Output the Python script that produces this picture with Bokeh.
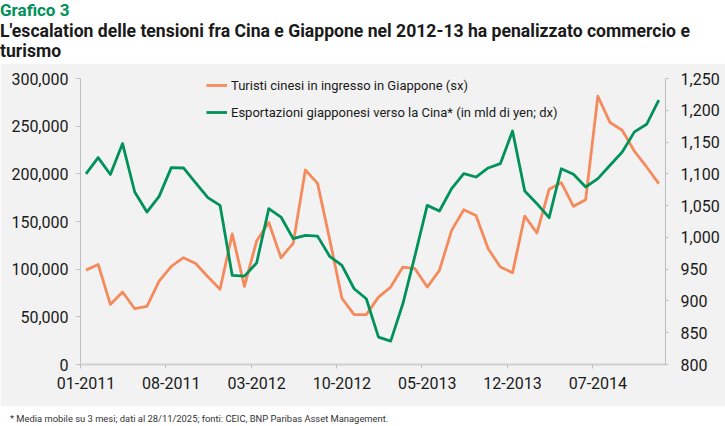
from bokeh.plotting import figure
from bokeh.models import (Range1d, LinearAxis, FixedTicker, NumeralTickFormatter,
                          Legend, LegendItem, Div)
from bokeh.layouts import column
from bokeh.embed import file_html
from bokeh.resources import INLINE

# ---------------- data ----------------
tick_months = [0, 7, 14, 21, 28, 35, 42]
tick_labels = ["01-2011", "08-2011", "03-2012", "10-2012", "05-2013", "12-2013", "07-2014"]

turisti = [99000, 105000, 63000, 76000, 58500, 61000, 87500, 103000, 112000, 106000, 92000, 79000,
           137000, 82000, 129500, 149000, 112000, 127000, 204000, 190000, 131000, 69500, 52300, 52300,
           70700, 81200, 102200, 100500, 81200, 98700, 140700, 162400, 156400, 121500, 102200, 96300,
           155700, 137900, 183800, 190800, 165900, 172900, 281400, 253800, 245700, 223700, 207200, 189700]

export = [1100, 1125.6, 1099, 1147.6, 1071.4, 1039.9, 1064.6, 1109.8, 1109.2, 1085.6, 1062.6, 1050.4,
          940.2, 939, 959.6, 1045.2, 1032, 998, 1003.2, 1002, 970, 955.9, 919.2, 903.5,
          843, 836.7, 895.5, 971.7, 1050.4, 1041.5, 1076.7, 1100.3, 1095, 1109.2, 1116, 1167.4,
          1072.9, 1053, 1031, 1108, 1099.3, 1079.3, 1092.5, 1113.4, 1134.4, 1166, 1178, 1215.8]

left_ticks = [0, 50000, 100000, 150000, 200000, 250000, 300000]
right_ticks = [800, 850, 900, 950, 1000, 1050, 1100, 1150, 1200, 1250]

label_turisti = "Turisti cinesi in ingresso in Giappone (sx)"
label_export = "Esportazioni giapponesi verso la Cina* (in mld di yen; dx)"
title_kicker = "Grafico 3"
title_line1 = "L'escalation delle tensioni fra Cina e Giappone nel 2012-13 ha penalizzato commercio e"
title_line2 = "turismo"
footnote = "* Media mobile su 3 mesi; dati al 28/11/2025; fonti: CEIC, BNP Paribas Asset Management."

# ---------------- style ----------------
FONT = "Roboto"
ORANGE = "#f58b5c"
GREEN = "#00925a"
BG = "#f2f2f2"
AXIS = "#bdbdbd"
TXT = "#1a1a1a"
W = 725
OFF = 0.45

xs = [i + OFF for i in range(len(turisti))]

# ---------------- title ----------------
title_html = (
    f'<div style="font-family:{FONT};font-weight:bold;font-size:17px;line-height:20px;'
    f'color:#00915a;white-space:nowrap;margin:0;padding:0">{title_kicker}</div>'
    f'<div style="font-family:{FONT};font-weight:bold;font-size:17.6px;line-height:20px;'
    f'color:{TXT};white-space:nowrap;margin:1.3px 0 0 0;padding:0">{title_line1}<br>{title_line2}</div>'
)
t = Div(text=title_html, width=W, height=63, margin=(0, 0, 0, 0),
        styles={"background-color": "white", "overflow": "hidden"})

# ---------------- main chart ----------------
p = figure(width=W, height=343, x_range=Range1d(0, 48), y_range=Range1d(0, 300000),
           toolbar_location=None, output_backend="svg",
           min_border_left=80, min_border_right=60, min_border_top=15, min_border_bottom=42,
           background_fill_color=BG, border_fill_color=BG, outline_line_color=None)
p.grid.visible = False
p.extra_y_ranges = {"right": Range1d(800, 1250)}

r1 = p.line(xs, turisti, line_color=ORANGE, line_width=2.8, line_join="round")
r2 = p.line(xs, export, line_color=GREEN, line_width=2.8, line_join="round", y_range_name="right")

# x axis
xa = p.xaxis[0]
xa.ticker = FixedTicker(ticks=[m + OFF for m in tick_months], minor_ticks=tick_months)
xa.major_label_overrides = {m + OFF: lab for m, lab in zip(tick_months, tick_labels)}
xa.major_tick_line_color = None
xa.major_tick_out = 0
xa.major_tick_in = 0
xa.minor_tick_line_color = AXIS
xa.minor_tick_out = 4
xa.minor_tick_in = 0
xa.axis_line_color = "#d0d0d0"
xa.axis_line_width = 2
xa.major_label_standoff = 8
xa.major_label_text_font = FONT
xa.major_label_text_font_size = "16px"
xa.major_label_text_color = TXT

# left axis
ya = p.yaxis[0]
ya.ticker = FixedTicker(ticks=left_ticks)
ya.formatter = NumeralTickFormatter(format="0,0")
ya.axis_line_color = AXIS
ya.major_tick_line_color = AXIS
ya.major_tick_out = 4
ya.major_tick_in = 0
ya.minor_tick_line_color = None
ya.major_label_standoff = 8
ya.major_label_text_font = FONT
ya.major_label_text_font_size = "16px"
ya.major_label_text_color = TXT

# right axis
ra = LinearAxis(y_range_name="right", ticker=FixedTicker(ticks=right_ticks),
                formatter=NumeralTickFormatter(format="0,0"))
ra.axis_line_color = AXIS
ra.major_tick_line_color = AXIS
ra.major_tick_out = 3
ra.major_tick_in = 0
ra.minor_tick_line_color = None
ra.major_label_standoff = 12
ra.major_label_text_font = FONT
ra.major_label_text_font_size = "16px"
ra.major_label_text_color = TXT
p.add_layout(ra, "right")

legend = Legend(items=[LegendItem(label=label_turisti, renderers=[r1]),
                       LegendItem(label=label_export, renderers=[r2])],
                location=(126, 244), orientation="vertical")
legend.background_fill_alpha = 0
legend.border_line_color = None
legend.padding = 0
legend.margin = 0
legend.spacing = 11
legend.glyph_width = 21
legend.glyph_height = 16
legend.label_height = 16
legend.label_standoff = 4
legend.label_text_font = FONT
legend.label_text_font_size = "13px"
legend.label_text_color = TXT
p.add_layout(legend, "center")

# ---------------- footnote ----------------
foot_html = (
    f'<div style="font-family:{FONT};font-size:9.4px;line-height:20px;color:#333333;'
    f'white-space:nowrap;margin:0;padding:2.5px 0 0 10px">{footnote}</div>'
)
f = Div(text=foot_html, width=W, height=20, margin=(0, 0, 0, 0),
        styles={"background-color": "white", "overflow": "hidden"})

layout = column(t, p, f, spacing=0)
open("out.html", "w").write(file_html(layout, INLINE))
